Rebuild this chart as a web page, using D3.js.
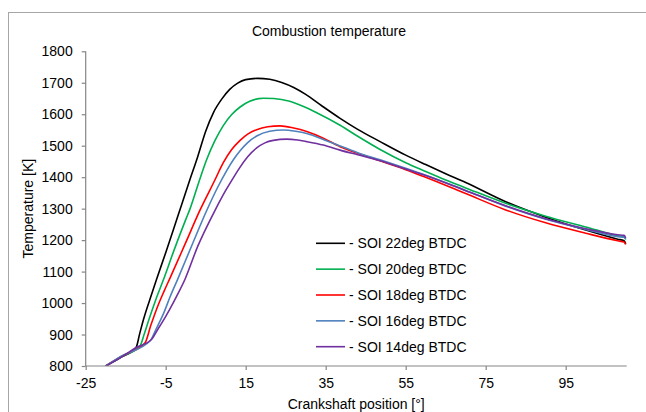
<!DOCTYPE html>
<html><head><meta charset="utf-8">
<script src="https://cdn.jsdelivr.net/npm/d3@7"></script>
<style>
html,body{margin:0;padding:0;background:#fff;}
svg{display:block;font-family:"Liberation Sans",Arial,sans-serif;}
</style></head>
<body>
<svg id="chart" width="646" height="412"></svg>
<script>
const chartTitle = "Combustion temperature";
const xTitle = "Crankshaft position [°]";
const yTitle = "Temperature [K]";
const xTicks = [-25, -5, 15, 35, 55, 75, 95];
const yTicks = [800, 900, 1000, 1100, 1200, 1300, 1400, 1500, 1600, 1700, 1800];
const seriesNames = ["- SOI 22deg BTDC", "- SOI 20deg BTDC", "- SOI 18deg BTDC", "- SOI 16deg BTDC", "- SOI 14deg BTDC"];
const seriesColors = ["#000000", "#00b050", "#ff0000", "#4f81bd", "#7030a0"];

// [crank angle, temperature]
const soi22 = [[-20,800],[-16,829],[-12.4,859],[-11.5,903],[-10.5,950],[-9,1010],[-7.3,1075],[-5,1160],[-2,1275],[1,1390],[3,1465],[5,1546],[7,1607],[9,1648],[11,1679],[13,1699],[15,1710],[18,1714],[21,1711],[24,1701],[27,1685],[30,1663],[34,1627],[38.6,1587],[43,1552],[48.6,1513],[55,1470],[60,1440],[65,1411],[70,1383],[80,1322],[90,1273],[100,1232],[108,1203],[109.6,1198],[110,1188]];
const soi20 = [[-20,800],[-16,830],[-11.4,864],[-10.4,900],[-9,955],[-7.5,1010],[-5.6,1073],[-3,1165],[0,1265],[1.1,1300],[3.3,1385],[5.25,1456],[7.3,1516],[9.4,1564],[11.5,1599],[13.6,1623],[16,1641],[19.4,1651],[22,1650],[26,1641],[29,1627],[32.75,1605],[38.6,1565],[43,1530],[48.6,1488],[55,1446],[60,1418],[65,1391],[70,1366],[80,1317],[90,1276],[100,1242],[108,1214],[109.6,1210],[110,1202]];
const soi18 = [[-20,800],[-16,831],[-10.2,873],[-8.7,930],[-7,990],[-5.4,1038],[-3.9,1080],[0,1192],[3.6,1296],[7.3,1391],[9.4,1446],[11.5,1488],[13.6,1517],[15.5,1537],[17.75,1551],[20.5,1560],[23.6,1563],[27,1556],[30.25,1545],[34.4,1524],[38.6,1497],[43,1476],[48.6,1452],[55,1424],[60,1400],[70,1348],[80,1296],[90,1255],[100,1222],[108,1198],[109.6,1194],[110,1186]];
const soi16 = [[-20,800],[-16,832],[-8.9,880],[-7.3,920],[-5.5,968],[-3.9,1020],[-2.1,1073],[1.5,1182],[5.25,1294],[8,1368],[10.25,1421],[12,1457],[13.6,1484],[15.5,1510],[17.75,1531],[21,1546],[24.4,1550],[27.5,1546],[30.25,1539],[34.4,1520],[38.6,1499],[43,1478],[48.6,1455],[55,1428],[60,1406],[70,1358],[80,1308],[90,1266],[100,1234],[108,1211],[109.6,1209],[110,1203]];
const soi14 = [[-20,800],[-16,829],[-12.5,858],[-8.5,885],[-7,916],[-6,936],[-4,980],[-2.25,1022],[-0.2,1075],[3,1180],[7.3,1294],[10,1358],[11.9,1398],[13.6,1432],[15.5,1465],[17.75,1493],[19.8,1509],[21.9,1517],[25.25,1521],[28,1518],[30.25,1513],[34.4,1502],[38.6,1486],[43,1471],[48.6,1452],[55,1426],[60,1405],[70,1357],[80,1309],[90,1268],[100,1236],[108,1217],[109.6,1215],[110,1207]];
const allSeries = [soi22, soi20, soi18, soi16, soi14];

const svg = d3.select("#chart");
const plotL = 85.7, plotR = 626.7, plotT = 51.3, plotB = 366;
const x = d3.scaleLinear().domain([-25, 110.25]).range([plotL, plotR]);
const y = d3.scaleLinear().domain([800, 1800]).range([plotB, plotT]);

// chart area frame
svg.append("rect").attr("x", 8.5).attr("y", 12.5).attr("width", 700).attr("height", 500)
  .attr("fill", "none").attr("stroke", "#a6a6a6").attr("stroke-width", 1);

svg.append("text").attr("x", 329).attr("y", 36).attr("text-anchor", "middle")
  .attr("font-size", 14).attr("fill", "#000").text(chartTitle);

svg.append("clipPath").attr("id", "clip").append("rect")
  .attr("x", plotL).attr("y", plotT - 5).attr("width", plotR - plotL + 2).attr("height", plotB - plotT + 5);

const gLines = svg.append("g").attr("clip-path", "url(#clip)");
const line = d3.line().x(d => x(d[0])).y(d => y(d[1])).curve(d3.curveMonotoneX);
allSeries.forEach((s, i) => {
  gLines.append("path").datum(s).attr("d", line).attr("fill", "none")
    .attr("stroke", seriesColors[i]).attr("stroke-width", 1.6).attr("stroke-linejoin", "round");
});

const xAxis = d3.axisBottom(x).tickValues(xTicks).tickSize(4).tickPadding(8).tickFormat(d => String(d));
const gx = svg.append("g").attr("transform", `translate(0,${plotB})`).call(xAxis);
gx.select(".domain").attr("d", `M${plotL},0H${plotR}`);
const yAxis = d3.axisLeft(y).tickValues(yTicks).tickSize(4).tickPadding(9).tickFormat(d => String(d));
const gy = svg.append("g").attr("transform", `translate(${plotL},0)`).call(yAxis);
gy.select(".domain").attr("d", `M0,${plotT}V${plotB}`);
[gx, gy].forEach(g => {
  g.selectAll(".domain, line").attr("stroke", "#868686").attr("stroke-width", 1.2);
  g.selectAll("text").attr("font-size", 14).attr("fill", "#000").attr("font-family", "Liberation Sans, Arial, sans-serif");
});

svg.append("text").attr("x", (plotL + plotR) / 2).attr("y", 409).attr("text-anchor", "middle")
  .attr("font-size", 14).attr("fill", "#000").text(xTitle);
svg.append("text").attr("transform", `translate(33,${(plotT + plotB) / 2}) rotate(-90)`)
  .attr("text-anchor", "middle").attr("font-size", 14).attr("fill", "#000").text(yTitle);

// legend
const legY0 = 243.3, legStep = 25.85;
seriesNames.forEach((n, i) => {
  const yy = legY0 + i * legStep;
  svg.append("line").attr("x1", 316).attr("x2", 345).attr("y1", yy).attr("y2", yy)
    .attr("stroke", seriesColors[i]).attr("stroke-width", 1.6);
  svg.append("text").attr("x", 349).attr("y", yy).attr("dy", "0.35em")
    .attr("font-size", 14).attr("fill", "#000").text(n);
});
</script>
</body></html>
